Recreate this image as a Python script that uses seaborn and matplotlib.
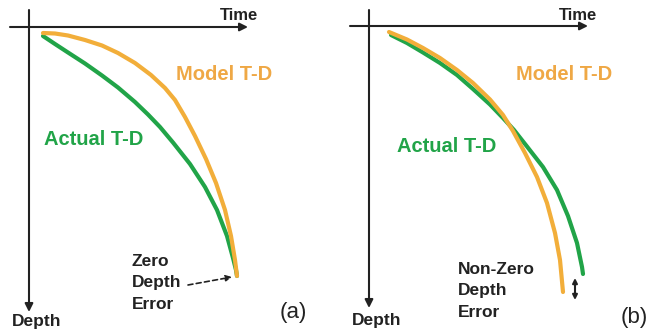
import matplotlib
matplotlib.use("Agg")
import matplotlib.pyplot as plt
import seaborn as sns
import pandas as pd

# Schematic T-D curves, time right / depth down (units ~ pixels from the axis origin)
a_model_time = [14, 26, 39, 56, 73, 89, 106, 122, 136, 146, 156, 166, 177, 187, 196, 202, 206, 208]
a_model_depth = [6, 6.5, 8.5, 13, 18.5, 26, 36, 48, 61, 73, 90, 109, 132, 156, 183, 209, 233, 249]
a_actual_time = [14, 26, 39, 56, 73, 89, 106, 119, 131, 144, 161, 176, 188, 198, 204, 207, 208]
a_actual_depth = [9, 17, 25.5, 36.5, 48.5, 60.5, 75, 87.5, 100, 115.5, 137, 160, 183, 209, 231, 243, 249]

b_model_time = [20, 38, 54, 71, 88, 104, 121, 134, 144, 156, 168, 178, 186, 191, 194]
b_model_depth = [6, 13.5, 22, 32, 44, 57, 73.5, 89, 105, 127, 151, 177, 207, 234, 266]
b_actual_time = [22, 38, 54, 71, 88, 104, 121, 134, 145, 158, 174, 188, 199, 208, 213, 214]
b_actual_depth = [9, 17, 26.5, 37, 49, 63, 78.5, 92, 104, 120.5, 141, 164, 190, 217, 241, 248]

panel_labels = ["(a)", "(b)"]
error_labels = ["Zero\nDepth\nError", "Non-Zero\nDepth\nError"]

ORANGE = "#F2AE3A"
GREEN = "#21A448"
INK = "#222222"

sns.set_style("white")
plt.rcParams["font.family"] = ["Liberation Sans", "DejaVu Sans"]

W, H = 651, 332
fig = plt.figure(figsize=(W / 100, H / 100), dpi=100)

panels = [
    dict(origin=(29, 27), left=0, model=(a_model_time, a_model_depth),
         actual=(a_actual_time, a_actual_depth), vtop=-17, vbot=285, dgap=10,
         time_xy=(210, -11), actual_xy=(65, 113), err_xy=(103, 256),
         lab_xy=(264, 286)),
    dict(origin=(369, 26), left=325.5, model=(b_model_time, b_model_depth),
         actual=(b_actual_time, b_actual_depth), vtop=-16, vbot=282, dgap=12,
         time_xy=(209, -10), actual_xy=(78, 121), err_xy=(89, 265),
         lab_xy=(265, 292)),
]

for i, p in enumerate(panels):
    ox, oy = p["origin"]
    ax = fig.add_axes([p["left"] / W, 0, 325.5 / W, 1])
    ax.set_xlim(p["left"] - ox, p["left"] + 325.5 - ox)
    ax.set_ylim(H - oy, -oy)
    ax.axis("off")

    model = pd.DataFrame({"Time": p["model"][0], "Depth": p["model"][1]})
    actual = pd.DataFrame({"Time": p["actual"][0], "Depth": p["actual"][1]})
    sns.lineplot(data=actual, x="Time", y="Depth", ax=ax, color=GREEN,
                 lw=3.0, estimator=None, sort=False, solid_capstyle="round",
                 solid_joinstyle="round")
    sns.lineplot(data=model, x="Time", y="Depth", ax=ax, color=ORANGE,
                 lw=3.0, estimator=None, sort=False, solid_capstyle="round",
                 solid_joinstyle="round")

    # axes arrows
    ax.annotate("", xy=(219, 0), xytext=(-19, 0),
                arrowprops=dict(arrowstyle="-|>", color=INK, lw=1.5,
                                mutation_scale=12, shrinkA=0, shrinkB=0))
    ax.annotate("", xy=(0, p["vbot"]), xytext=(0, p["vtop"]),
                arrowprops=dict(arrowstyle="-|>", color=INK, lw=1.5,
                                mutation_scale=12, shrinkA=0, shrinkB=0))

    ax.text(*p["time_xy"], "Time", fontsize=12, fontweight="bold",
            color=INK, ha="center", va="center")
    ax.text(8, p["vbot"] + p["dgap"], "Depth", fontsize=12.5, fontweight="bold",
            color=INK, ha="center", va="center")
    ax.text(195, 48, "Model T-D", fontsize=14.5, fontweight="bold",
            color="#EFA845", ha="center", va="center")
    ax.text(*p["actual_xy"], "Actual T-D", fontsize=14.5, fontweight="bold",
            color=GREEN, ha="center", va="center")
    ax.text(*p["err_xy"], error_labels[i], fontsize=12.5, fontweight="bold",
            color=INK, ha="left", va="center", linespacing=1.55)
    ax.text(*p["lab_xy"], panel_labels[i], fontsize=16, color=INK,
            ha="center", va="center")

    if i == 0:
        ax.annotate("", xy=(203, 250), xytext=(159, 258),
                    arrowprops=dict(arrowstyle="-|>", color=INK, lw=1.2,
                                    ls=(0, (3, 2)), mutation_scale=9,
                                    shrinkA=0, shrinkB=0))
    else:
        ax.annotate("", xy=(206, 252), xytext=(206, 274),
                    arrowprops=dict(arrowstyle="<|-|>", color=INK, lw=1.5,
                                    mutation_scale=7, shrinkA=0, shrinkB=0))

fig.savefig("out.png", dpi=100)
